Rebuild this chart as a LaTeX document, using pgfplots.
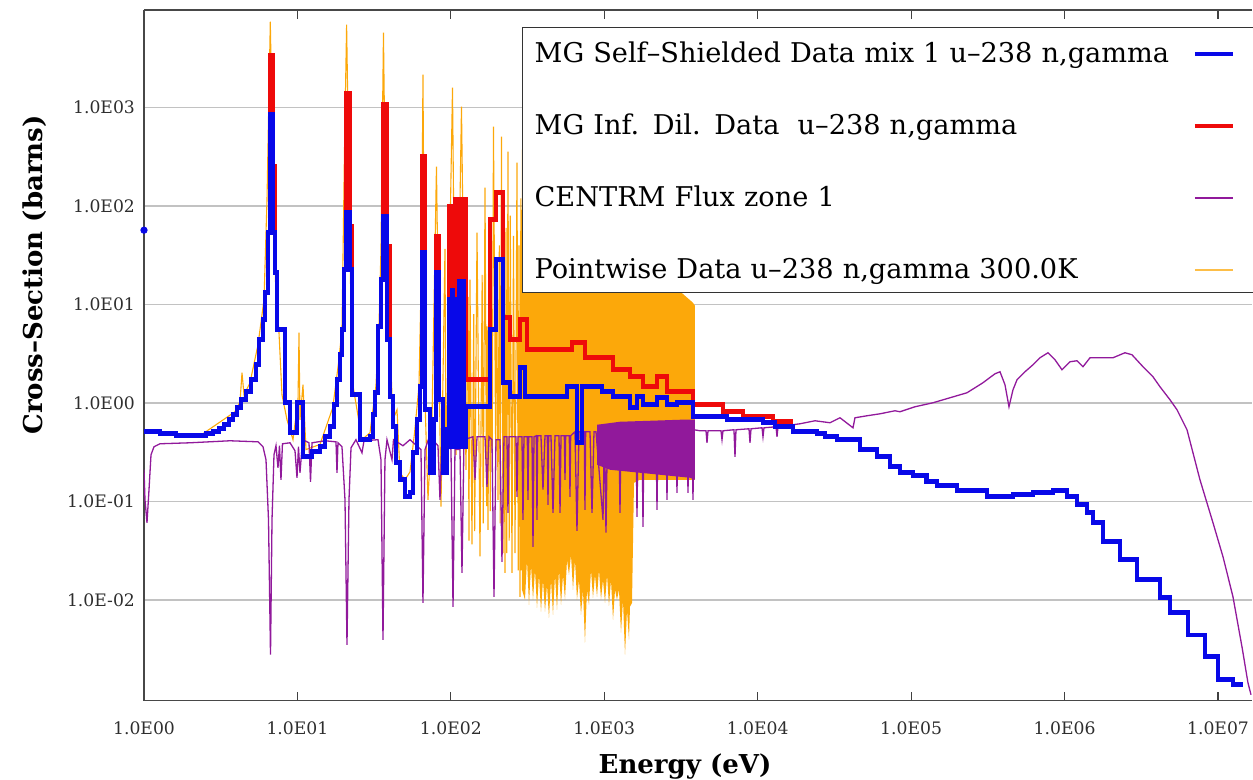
\documentclass[border=0pt]{standalone}
\usepackage{pgfplots}
\pgfplotsset{compat=1.18}
\usepackage{fontspec}
\setmainfont{DejaVu Serif}
\definecolor{blueC}{RGB}{8,8,232}
\definecolor{redC}{RGB}{238,10,10}
\definecolor{purpC}{RGB}{145,25,155}
\definecolor{orgC}{RGB}{252,168,10}
\begin{document}
\begin{tikzpicture}
\begin{axis}[
  scale only axis, width=554pt, height=345.35pt,
  xmode=log, ymode=log,
  xmin=1, xmax=1.666e7, ymin=9.49e-4, ymax=9815,
  axis x line*=box, axis y line*=left,
  axis line style={draw=black!72, line width=0.75pt},
  xtick={1,10,100,1000,1e4,1e5,1e6,1e7},
  xticklabels={\mbox{1.0E00},\mbox{1.0E01},\mbox{1.0E02},\mbox{1.0E03},\mbox{1.0E04},\mbox{1.0E05},\mbox{1.0E06},\mbox{1.0E07}},
  ytick={1e-2,1e-1,1,10,100,1000},
  yticklabels={\mbox{1.0E-02},\mbox{1.0E-01},\mbox{1.0E00},\mbox{1.0E01},\mbox{1.0E02},\mbox{1.0E03}},
  xminorticks=false, yminorticks=false,
  tick align=inside, major tick length=4.5pt,
  xtick style={draw=black!75, line width=0.6pt},
  ytick style={draw=none},
  ymajorgrids, major grid style={draw=black!24, line width=0.75pt},
  ticklabel style={font=\fontsize{8.6}{10}\selectfont, text=black!82},
  xticklabel style={yshift=-7pt},
  yticklabel style={xshift=-1pt},
  xlabel={Energy (eV)}, ylabel={Cross--Section (barns)},
  label style={font=\bfseries\fontsize{13}{15}\selectfont},
  xlabel style={at={(axis description cs:0.4883,-0.1047)}, anchor=base},
  ylabel style={at={(axis description cs:-0.0984,0.6163)}, anchor=center},
  legend style={at={(0.3412,0.9754)}, anchor=north west, draw=black!80, line width=0.6pt, fill=white,
    inner xsep=0pt, inner ysep=4pt, row sep=19.7pt, font=\fontsize{13.6}{16}\selectfont,
    nodes={inner xsep=6pt, inner ysep=0pt, text width=323pt, text height=13.3pt, text depth=3pt, align=left}},
  legend plot pos=right, legend cell align=left, reverse legend,
  legend image code/.code={\draw[#1, line cap=butt] (0pt,-1pt) -- (19pt,-1pt); \path[draw=none, fill=none] (0pt,-1pt) -- (30pt,-1pt);},
]
% ---- pointwise (orange) spikes
\addplot[orgC, line width=0.55pt, sharp plot, legend image post style={line width=0.9pt, draw=orgC!75}] coordinates {
(1,0.511)(2.317,0.466)(3.918,0.816)(4.224,1.031)(4.353,2.031)(4.486,1.214)(4.908,1.608)(5.534,3.909)(6.056,11.2)(6.335,116.1)(6.657,7458)(6.982,116.1)(7.25,11.2)(7.47,7.015)(7.584,5.188)(7.932,1.214)(8.551,0.677)(9.357,0.4246)(10.09,1.08)(10.24,5.188)(10.39,0.677)(10.87,1.534)(11.37,0.337)(14.03,0.38)(17.0,0.9)(18.5,2.5)(19.52,5.553)(20.27,374.2)(20.92,6950)(21.52,374.2)(22.69,1.724)(26.35,0.4246)(29.72,0.5)(32.5,1.5)(34,6)(35.05,36.9)(36.38,5768)(37.78,36.9)(41.97,0.677)(44.57,0.855)(46.61,0.1959)(50.24,0.1664)(54.17,0.2)(58,0.5)(62,1.5)(64.5,30)(65.81,2160)(67.84,1.08)(70.96,0.1042)(75.36,0.677)(80.57,251.2)(86.25,0.0887)(91.58,36.9)(92.96,0.2102)(102.5,1593)(108.0,0.2985)(117.3,1022)(125.5,0.2102)(129.5,12.0)(131.2,0.04)(133.3,17.88)(137.3,0.0367)(141,8)(143,0.05)(148.1,53.66)(154.9,0.0277)(160,20)(162.5,0.06)(167.0,153.8)(171,0.09)(172.5,6)(174.7,0.0514)(178,25)(180.5,0.08)(182.7,11.2)(186,0.2)(189.6,640.2)(196,0.3)(198.5,30)(202.9,0.1042)(207,40)(209.5,0.06)(213.8,506.7)(219,0.03)(221.5,15)(225.4,0.0189)(229,60)(231.5,0.03)(235.7,356.7)(240,0.04)(244,80)(250.3,0.0189)(256,50)(262,0.03)(269.8,275.9)(275,0.02)(278,40)(282.3,0.01078)(286,120)(288.5,0.02)(290.8,91.46)
};
\addlegendentry{Pointwise Data u--238 n,gamma 300.0K}
% dense pointwise region
\addplot[fill=orgC, draw=none, forget plot] coordinates {
(290.8,373.8)(2934,373.8)(2978,14.49)(3786,10.44)(3902,9.732)(3902,0.1664)(1709,0.1664)(1562,0.1551)(1516,0.00937)(1471,0.00854)(1449,0.00395)(1406,0.00796)(1365,0.00278)(1324,0.01005)(1285,0.00465)(1247,0.0127)(1210,0.01005)(1175,0.0127)(1140,0.0063)(1106,0.01604)(1073,0.00874)(1042,0.01804)(1011,0.00937)(980.8,0.01604)(951.7,0.01005)(923.8,0.0203)(896.6,0.01078)(869.7,0.01804)(844.1,0.01053)(819.2,0.0203)(794.9,0.00894)(771.4,0.0127)(748.6,0.00368)(726.4,0.0127)(705.0,0.00708)(684.2,0.01604)(663.9,0.01005)(644.3,0.0256)(625.3,0.0127)(606.7,0.0288)(588.8,0.01804)(571.5,0.0256)(554.6,0.01005)(538.2,0.01804)(522.4,0.00894)(506.9,0.0203)(491.8,0.00796)(477.3,0.01804)(463.2,0.00708)(449.5,0.01604)(436.1,0.0066)(423.3,0.01428)(410.8,0.0076)(398.6,0.01604)(386.9,0.0076)(375.5,0.01804)(364.3,0.00834)(353.6,0.0203)(343.1,0.01005)(333.0,0.0228)(323.1,0.00894)(313.5,0.0256)(304.2,0.01005)(290.8,0.0127)
};
% ---- CENTRM flux (purple)
\addplot[fill=purpC, draw=none, forget plot] coordinates {
(896.6,0.602)(1266,0.646)(1986,0.661)(3116,0.677)(3902,0.677)(3902,0.1664)(3620,0.1743)(2681,0.1827)(1986,0.1914)(1471,0.2006)(1090,0.2102)(896.6,0.2362)
};
\addplot[purpC, line width=0.65pt, sharp plot] coordinates {
(1.0,0.2102)(1.015,0.1042)(1.046,0.0609)(1.078,0.1316)(1.111,0.2985)(1.162,0.36)(1.271,0.386)(1.994,0.395)(3.636,0.414)(5.534,0.404)(5.966,0.36)(6.24,0.2655)(6.479,0.0653)(6.677,0.00278)(6.829,0.0653)(7.036,0.2985)(7.25,0.3685)(7.47,0.2203)(7.64,0.3685)(7.815,0.1664)(7.99,0.386)(8.947,0.395)(9.643,0.3277)(9.936,0.1743)(10.16,0.36)(10.39,0.1959)(10.71,0.3514)(11.2,0.414)(11.9,0.395)(12.17,0.1588)(12.45,0.395)(15.12,0.414)(17.84,0.404)(18.11,0.1959)(18.38,0.395)(19.52,0.36)(20.42,0.1042)(21.04,0.00351)(21.68,0.1042)(22.35,0.3514)(24.08,0.4246)(26.35,0.3127)(27.16,0.414)(33.51,0.4246)(35.05,0.2655)(36.12,0.00394)(37.21,0.2655)(38.36,0.4246)(41.34,0.2655)(42.29,0.4246)(48.75,0.3685)(54.17,0.4246)(63.88,0.337)(65.81,0.00935)(67.84,0.337)(72.02,0.4442)(73.11,0.3127)(74.23,0.4442)(82.45,0.3685)(84.96,0.1042)(87.55,0.4442)(100.2,0.337)(103.3,0.00851)(106.4,0.337)(114.7,0.337)(118.2,0.0189)(121.8,0.4246)(139.4,0.4546)(143.7,0.1664)(148.1,0.4546)(167.0,0.4546)(172.0,0.1413)(177.3,0.4546)(185.4,0.4246)(191.1,0.01078)(196.9,0.4246)(209.1,0.4246)(215.4,0.02444)(222.0,0.4546)(232.2,0.4546)(235.7,0.0769)(239.3,0.4546)(265.8,0.4546)(269.8,0.1118)(273.9,0.4546)(290.8,0.4546)(295.2,0.0653)(299.7,0.4546)(315,0.4546)(318.3,0.1042)(321.5,0.4546)(338.0,0.4546)(343.1,0.0347)(348.3,0.4546)(360.7,0.4655)(364.3,0.0653)(367.9,0.4655)(386.8,0.4655)(398.6,0.1318)(410.8,0.4655)(425.4,0.4655)(429.7,0.0927)(434,0.4655)(449.5,0.4655)(463.2,0.0769)(477.3,0.4655)(506.9,0.4655)(514.6,0.0769)(522.4,0.4655)(549.1,0.4655)(554.6,0.1664)(560.1,0.4655)(591.7,0.4655)(597.7,0.1118)(603.7,0.4655)(644.3,0.511)(663.9,0.0505)(684.2,0.511)(741.2,0.511)(748.6,0.0825)(756.1,0.511)(807.1,0.511)(831.7,0.0769)(857.0,0.511)(883.2,0.511)(981,0.0653)(1003,0.5357)(1026,0.0482)(1049,0.5357)(1247,0.5357)(1266,0.0769)(1285,0.5357)(1610,0.5357)(1634,0.07)(1659,0.5357)(1762,0.5357)(1788,0.0554)(1815,0.5357)(2173,0.5357)(2206,0.0825)(2239,0.5357)(2525,0.5357)(2563,0.1042)(2602,0.5357)(2934,0.5357)(2978,0.1228)(3023,0.5357)(3460,0.5357)(3513,0.1228)(3566,0.5357)(3729,0.5357)(3786,0.1042)(3843,0.5357)(4206,0.523)(4603,0.523)(4672,0.395)(4743,0.523)(5765,0.523)(5852,0.4246)(5938,0.523)(7004,0.5357)(7112,0.2848)(7219,0.5357)(8775,0.548)(8907,0.395)(9043,0.548)(10670,0.561)(10825,0.4546)(10990,0.561)(13160,0.574)(13360,0.4546)(13560,0.574)(18860,0.616)(23630,0.661)(29590,0.631)(34390,0.709)(41780,0.561)(43050,0.709)(51550,0.743)(62660,0.778)(78470,0.835)(84590,0.816)(105900,0.917)(138800,1.007)(179200,1.132)(231200,1.272)(293900,1.608)(352100,1.985)(379500,2.079)(409000,1.534)(434300,0.917)(461200,1.365)(489700,1.724)(552100,2.079)(622600,2.449)(691600,2.885)(779800,3.243)(866200,2.753)(962000,2.179)(1.085e6,2.628)(1.205e6,2.689)(1.318e6,2.337)(1.465e6,2.885)(1.702e6,2.885)(2.069e6,2.885)(2.476e6,3.243)(2.750e6,3.094)(3.245e6,2.337)(3.77e6,1.849)(4.187e6,1.464)(4.866e6,1.08)(5.404e6,0.855)(6.281e6,0.5357)(7.63e6,0.1664)(9.275e6,0.0609)(1.078e7,0.02748)(1.252e7,0.01078)(1.433e7,0.00335)(1.568e7,0.001443)(1.641e7,0.00109)
};
\addlegendentry{CENTRM Flux zone 1}
% ---- MG infinite dilution (red)
\addplot[redC, line width=2.3pt, const plot mark left] coordinates {
(5.370,2.449)(5.617,4.395)(5.966,7.015)(6.148,13.19)(6.431,53.66)(6.627,3367)(6.93,251)(7.141,21.06)(7.358,5.553)(8.299,1.007)(8.947,0.499)(9.936,1.007)(10.87,0.285)(12.45,0.320)(14.03,0.360)(15.12,0.455)(16.31,0.574)(17.32,0.961)(18.11,1.724)(18.95,3.094)(19.52,5.553)(20.12,22.64)(20.73,1385)(22.01,61.75)(22.69,1.214)(25.57,0.4246)(29.72,0.4546)(31.08,0.761)(32.04,1.272)(33.51,5.957)(35.05,17.88)(36.12,1071)(38.36,38.68)(40.12,1.159)(41.97,0.574)(43.90,0.2475)(46.61,0.1664)(50.24,0.1118)(54.17,0.1228)(56.66,0.3127)(60.17,0.677)(62.93,1.464)(64.85,317.4)(67.84,0.855)(73.11,0.1959)(77.65,0.677)(80.01,48.9)(83.70,1.080)(88.88,0.1959)(94.38,0.5357)(97.25,98.6)(101,12)(102,98.6)(106,12)(107,116.1)(112,12)(113,116.1)(119,12)(120,116.1)(125.5,1.724)(179.9,72.7)(196.9,136.8)(218.7,7.35)(242.9,4.395)(282.3,7.015)(313.5,3.477)(615.8,4.102)(748.6,2.885)(1140,2.179)(1471,1.849)(1788,1.464)(2206,1.849)(2563,1.302)(3786,0.961)(5938,0.816)(8017,0.726)(12580,0.646)(16980,0.646)
};
\addlegendentry{MG Inf. Dil. Data\ \ u--238 n,gamma}
% ---- MG self-shielded (blue)
\addplot[blueC, line width=2.3pt, const plot mark left] coordinates {
(1,0.511)(1.271,0.488)(1.617,0.466)(2.183,0.466)(2.536,0.488)(2.817,0.511)(3.082,0.548)(3.322,0.602)(3.581,0.677)(3.803,0.761)(4.039,0.896)(4.288,1.080)(4.622,1.302)(4.982,1.724)(5.370,2.449)(5.617,4.395)(5.966,7.015)(6.148,13.19)(6.431,53.66)(6.627,847)(6.930,53.66)(7.141,21.06)(7.358,5.553)(8.299,1.007)(8.947,0.499)(9.936,1.007)(10.87,0.285)(12.45,0.320)(14.03,0.360)(15.12,0.455)(16.31,0.574)(17.32,0.961)(18.11,1.724)(18.95,3.094)(19.52,5.553)(20.12,22.64)(20.73,85.9)(22.01,22.64)(22.69,1.214)(25.57,0.4246)(29.72,0.4546)(31.08,0.761)(32.04,1.272)(33.51,5.957)(35.05,17.88)(36.12,78.0)(38.36,4.395)(40.12,1.159)(41.97,0.574)(43.90,0.2475)(46.61,0.1664)(50.24,0.1118)(54.17,0.1228)(56.66,0.3127)(60.17,0.677)(62.93,1.464)(64.85,33.61)(67.84,0.855)(73.11,0.1959)(77.65,0.677)(80.01,21.06)(83.70,1.080)(88.88,0.1959)(94.38,0.5357)(97.25,11.2)(100,0.36)(101.5,14)(103.3,0.36)(104.8,11.2)(106.4,0.36)(108,11.2)(111.3,0.36)(112.8,17.34)(114.7,0.36)(116,17.34)(119,0.36)(120.5,17.34)(121.8,0.36)(125.5,0.917)(179.9,5.553)(196.9,28.54)(218.7,1.608)(242.9,1.159)(282.3,2.283)(304.2,1.159)(571.4,1.464)(663.9,0.397)(715.6,1.464)(966.2,1.302)(1140,1.159)(1471,0.896)(1634,1.159)(1788,0.961)(2206,1.132)(2563,0.961)(2978,1.007)(3786,0.726)(6305,0.677)(10825,0.631)(12963,0.574)(16980,0.511)(24340,0.488)(27450,0.4546)(32870,0.4246)(46420,0.337)(59900,0.285)(72830,0.2254)(84590,0.1959)(102800,0.1827)(125800,0.1588)(147400,0.1446)(199000,0.1286)(312200,0.1118)(461200,0.1172)(622600,0.1228)(840400,0.1286)(1.037e6,0.1118)(1.205e6,0.0927)(1.400e6,0.0769)(1.532e6,0.0609)(1.780e6,0.0390)(2.297e6,0.0256)(2.965e6,0.01604)(4.187e6,0.01053)(4.866e6,0.00742)(6.374e6,0.00443)(8.225e6,0.00265)(1.0e7,0.001548)(1.252e7,0.001377)(1.455e7,0.001377)
};
\addlegendentry{MG Self--Shielded Data mix 1 u--238 n,gamma}
\addplot[blueC, only marks, mark=*, mark size=1.6pt, forget plot] coordinates {(1,57)};
\end{axis}
\pgfresetboundingbox
\path[use as bounding box] ([xshift=-72pt,yshift=-39.65pt]current axis.south west) rectangle ([xshift=0.5pt,yshift=5pt]current axis.north east);
\end{tikzpicture}
\end{document}
